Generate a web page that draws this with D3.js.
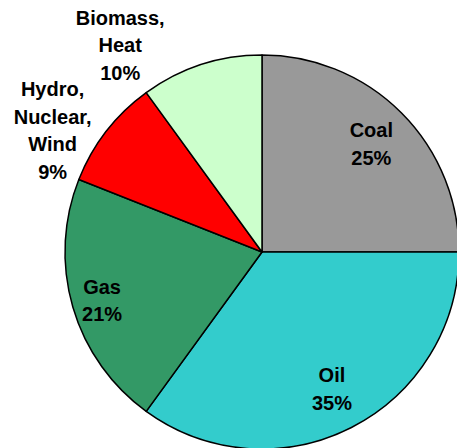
<!DOCTYPE html>
<html lang="en">

<head>
    <meta charset="UTF-8">
    <title>Energy Pie</title>
    <style>
        body {
            margin: 0;
            background: white;
        }

        #svg {
            display: block;
            overflow: hidden;
        }

        .label {
            font-family: "Liberation Sans", Arial, sans-serif;
            font-weight: bold;
            font-size: 20px;
            fill: black;
        }
    </style>
    <script src="https://d3js.org/d3.v7.min.js"></script>
</head>

<body>
    <svg id="svg"></svg>
    <script>
        const categories = ['Coal', 'Oil', 'Gas', 'Hydro, Nuclear, Wind', 'Biomass, Heat'];
        const values = [25, 35, 21, 9, 10];
        const labelLines = [
            ['Coal', '25%'],
            ['Oil', '35%'],
            ['Gas', '21%'],
            ['Hydro,', 'Nuclear,', 'Wind', '9%'],
            ['Biomass,', 'Heat', '10%']
        ];

        const colors = ['#999999', '#33cccc', '#339966', '#ff0000', '#ccffcc'];
        // label block centres, in units of the radius from the pie centre
        const labelPos = [
            [0.555, -0.55],
            [0.355, 0.695],
            [-0.812, 0.246],
            [-1.063, -0.617],
            [-0.72, -1.051]
        ];

        const width = 457;
        const height = 448;
        const cx = 262;
        const cy = 252;
        const radius = 197;
        const lineGap = 27.5;

        const svg = d3.select('#svg')
            .attr('width', width)
            .attr('height', height);

        const pie = d3.pie().sort(null).value(d => d);
        const arc = d3.arc().innerRadius(0).outerRadius(radius);

        const g = svg.append('g')
            .attr('transform', 'translate(' + cx + ',' + cy + ')');

        g.selectAll('path')
            .data(pie(values))
            .enter()
            .append('path')
            .attr('d', arc)
            .attr('fill', (d, i) => colors[i])
            .attr('stroke', 'black')
            .attr('stroke-width', 1.5)
            .attr('stroke-linejoin', 'round');

        const labels = g.selectAll('text')
            .data(categories)
            .enter()
            .append('text')
            .attr('class', 'label')
            .attr('text-anchor', 'middle')
            .attr('transform', (d, i) => {
                const p = labelPos[i];
                return 'translate(' + p[0] * radius + ',' + p[1] * radius + ')';
            });

        labels.each(function (d, i) {
            const lines = labelLines[i];
            const top = -(lines.length - 1) * lineGap / 2;
            d3.select(this).selectAll('tspan')
                .data(lines)
                .enter()
                .append('tspan')
                .attr('x', 0)
                .attr('y', (t, j) => top + j * lineGap)
                .attr('dy', '0.36em')
                .text(t => t);
        });
    </script>
</body>

</html>
